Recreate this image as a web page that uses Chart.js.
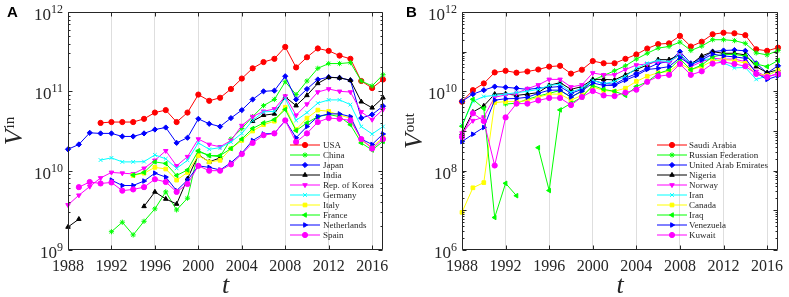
<!DOCTYPE html>
<html>
<head>
<meta charset="utf-8">
<script src="https://cdn.jsdelivr.net/npm/chart.js@4.4.0/dist/chart.umd.min.js"></script>
<style>
  body { margin: 0; background: #fff; }
  #wrapA { position: absolute; left: 0; top: 0; width: 395px; height: 297px; }
  #wrapB { position: absolute; left: 395px; top: 0; width: 394px; height: 297px; }
</style>
</head>
<body>
<div id="wrapA"><canvas id="chartA" width="395" height="297"></canvas></div>
<div id="wrapB"><canvas id="chartB" width="394" height="297"></canvas></div>
<script>
// years on the x axis
const years = [1988, 1989, 1990, 1991, 1992, 1993, 1994, 1995, 1996, 1997,
               1998, 1999, 2000, 2001, 2002, 2003, 2004, 2005, 2006, 2007,
               2008, 2009, 2010, 2011, 2012, 2013, 2014, 2015, 2016, 2017];
const xTickYears = [1988, 1992, 1996, 2000, 2004, 2008, 2012, 2016];
const yExpA = [9, 10, 11, 12];
const yExpB = [6, 8, 10, 12];

// Panel A: V^in
const namesA = ['USA', 'China', 'Japan', 'India', 'Rep. of Korea', 'Germany', 'Italy', 'France', 'Netherlands', 'Spain'];
const usa = [null, null, null, 4.0e10, 4.1e10, 4.1e10, 4.1e10, 4.5e10, 5.4e10, 5.8e10, 4.1e10, 5.4e10,
  9.1e10, 7.6e10, 8.3e10, 1.07e11, 1.45e11, 1.95e11, 2.34e11, 2.57e11,
  3.63e11, 2.0e11, 2.69e11, 3.47e11, 3.24e11, 2.82e11, 2.57e11, 1.35e11, 1.1e11, 1.41e11];
const china = [null, null, null, null, 1.7e9, 2.24e9, 1.55e9, 2.3e9, 3.3e9, 5.4e9, 3.2e9, 4.5e9,
  1.74e10, 1.55e10, 1.5e10, 2.5e10, 3.4e10, 4.8e10, 6.6e10, 7.9e10,
  1.32e11, 9.1e10, 1.35e11, 1.95e11, 2.24e11, 2.24e11, 2.3e11, 1.35e11, 1.17e11, 1.62e11];
const japan = [1.86e10, 2.14e10, 3.0e10, 2.95e10, 2.95e10, 2.7e10, 2.7e10, 2.95e10, 3.3e10, 3.5e10, 2.24e10, 2.6e10,
  4.5e10, 3.9e10, 3.6e10, 4.6e10, 5.8e10, 7.9e10, 1.0e11, 1.02e11,
  1.55e11, 7.9e10, 1.07e11, 1.41e11, 1.51e11, 1.48e11, 1.38e11, 4.6e10, 5.1e10, 6.5e10];
const india = [1.95e9, 2.45e9, null, null, null, null, null, 3.55e9, 5.4e9, 4.4e9, 3.8e9, 7.9e9,
  1.58e10, 1.29e10, 1.45e10, null, null, 4.2e10, 5.0e10, 5.2e10,
  8.5e10, 6.6e10, 8.9e10, 1.26e11, 1.5e11, 1.48e11, 1.38e11, 7.4e10, 6.2e10, 8.3e10];
const korea = [3.7e9, 4.9e9, 6.3e9, 8.1e9, 9.5e9, 9.3e9, 9.1e9, 1.07e10, 1.35e10, 1.78e10, 1.15e10, 1.5e10,
  2.5e10, 2.14e10, 2.0e10, 2.4e10, 3.7e10, 4.8e10, 5.6e10, 6.0e10,
  8.7e10, 5.0e10, 6.9e10, 9.8e10, 1.07e11, 1.0e11, 9.8e10, 5.5e10, 4.4e10, 5.9e10];
const germany = [null, null, null, 1.36e10, 1.45e10, 1.29e10, 1.29e10, 1.3e10, 1.58e10, 1.41e10, 1.07e10, 1.35e10,
  2.24e10, 1.86e10, 1.95e10, 2.3e10, 2.95e10, 4.3e10, 5.5e10, 5.6e10,
  8.1e10, 4.3e10, 5.4e10, 7.1e10, 7.8e10, 7.8e10, 6.8e10, 3.6e10, 2.9e10, 3.6e10];
const italy = [null, null, null, null, null, null, 8.7e9, 9.3e9, 1.1e10, 1.05e10, 7.6e9, 9.5e9,
  1.55e10, 1.29e10, 1.35e10, 1.9e10, 2.4e10, 3.16e10, 3.8e10, 4.2e10,
  6.3e10, 3.3e10, 4.6e10, 5.8e10, 5.6e10, 5.0e10, 4.6e10, 2.4e10, 2.0e10, 2.6e10];
const france = [null, null, null, null, null, null, 8.8e9, 9.5e9, 1.29e10, 1.23e10, 8.7e9, 1.02e10,
  1.78e10, 1.55e10, 1.55e10, 1.9e10, 2.5e10, 3.4e10, 4.0e10, 4.4e10,
  5.9e10, 3.2e10, 4.0e10, 4.8e10, 5.1e10, 4.8e10, 3.8e10, 2.24e10, 1.82e10, 2.34e10];
const netherlands = [null, null, null, null, 7.6e9, 6.5e9, 6.5e9, 7.4e9, 9.3e9, 8.3e9, 5.6e9, 7.6e9,
  1.15e10, 1.1e10, 1.02e10, 1.26e10, 1.66e10, 2.4e10, 2.9e10, 2.95e10,
  4.3e10, 2.6e10, 3.6e10, 4.8e10, 5.2e10, 5.2e10, 4.8e10, 2.5e10, 2.14e10, 2.9e10];
const spain = [null, 6.2e9, 7.2e9, 6.9e9, 7.1e9, 5.6e9, 5.8e9, 6.2e9, 7.8e9, 7.2e9, 5.4e9, 6.8e9,
  1.15e10, 1.0e10, 1.0e10, 1.2e10, 1.62e10, 2.24e10, 2.8e10, 2.95e10,
  4.3e10, 2.3e10, 2.95e10, 4.1e10, 4.6e10, 4.5e10, 4.3e10, 2.5e10, 1.9e10, 2.5e10];

// Panel B: V^out
const namesB = ['Saudi Arabia', 'Russian Federation', 'United Arab Emirates', 'Nigeria', 'Norway', 'Iran', 'Canada', 'Iraq', 'Venezuela', 'Kuwait'];
const saudi = [5.5e9, 1.07e10, 1.58e10, 3.0e10, 3.3e10, 2.95e10, 3.16e10, 3.55e10, 4.2e10, 4.4e10, 2.8e10, 3.5e10,
  5.8e10, 5.1e10, 5.1e10, 6.6e10, 8.5e10, 1.2e11, 1.55e11, 1.62e11,
  2.5e11, 1.35e11, 1.78e11, 2.75e11, 3.0e11, 2.9e11, 2.6e11, 1.15e11, 1.05e11, 1.26e11];
const russia = [null, null, null, null, 4.8e9, 5.0e9, 6.3e9, 7.6e9, 8.9e9, 1.05e10, 7.1e9, 1.0e10,
  1.9e10, 2.5e10, 3.3e10, 4.4e10, 6.5e10, 9.1e10, 1.23e11, 1.35e11,
  1.74e11, 1.07e11, 1.38e11, 2.0e11, 2.0e11, 1.9e11, 1.62e11, 9.3e10, 8.3e10, 1.07e11];
const uae = [5.6e9, 8.5e9, 1.07e10, 1.32e10, 1.26e10, 1.2e10, 1.12e10, 1.2e10, 1.26e10, 1.32e10, 8.9e9, 1.12e10,
  1.9e10, 1.58e10, 1.5e10, 2.14e10, 2.8e10, 3.8e10, 5.1e10, 5.6e10,
  1.0e11, 5.1e10, 6.8e10, 1.0e11, 1.07e11, 1.1e11, 1.05e11, 5.1e10, 2.9e10, 4.4e10];
const nigeria = [8.7e8, 3.0e9, 4.3e9, 8.5e9, 8.7e9, 7.9e9, 8.5e9, 9.3e9, 1.41e10, 1.66e10, 1.12e10, 1.32e10,
  2.0e10, 2.0e10, 1.95e10, 2.6e10, 3.55e10, 4.6e10, 6.3e10, 6.3e10,
  8.3e10, 4.8e10, 7.8e10, 1.0e11, 9.1e10, 9.1e10, 8.3e10, 4.2e10, 2.95e10, 3.5e10];
const norway = [8.9e8, 1.82e9, 2.24e9, 7.1e9, 8.1e9, 8.9e9, 1.17e10, 1.45e10, 2.0e10, 2.0e10, 1.29e10, 1.45e10,
  2.9e10, 2.6e10, 2.6e10, 3.55e10, 4.6e10, 4.9e10, 5.6e10, 5.4e10,
  8.3e10, 4.2e10, 5.6e10, 6.8e10, 6.5e10, 6.5e10, 5.6e10, 3.16e10, 2.34e10, 2.8e10];
const iran = [1.41e9, 5.6e9, 7.4e9, 7.9e9, 8.5e9, 9.3e9, 1.0e10, 1.12e10, 1.41e10, 1.51e10, 9.5e9, 1.2e10,
  1.9e10, 1.55e10, 1.78e10, 2.4e10, 3.8e10, 5.1e10, 6.0e10, 5.6e10,
  8.3e10, 4.9e10, 6.2e10, 6.8e10, 5.2e10, 3.9e10, 4.0e10, 2.0e10, 2.45e10, 3.55e10];
const canada = [8.9e6, 3.7e7, 5.0e7, 5.2e9, 5.5e9, 5.5e9, 5.8e9, 7.1e9, 8.5e9, 8.5e9, 6.0e9, 7.9e9,
  1.29e10, 1.05e10, 1.0e10, 1.2e10, 1.78e10, 2.4e10, 2.95e10, 3.16e10,
  5.1e10, 3.5e10, 4.2e10, 5.9e10, 6.3e10, 6.0e10, 5.1e10, 2.75e10, 2.5e10, 3.4e10];
const iraq = [1.32e9, 6.3e9, 3.7e9, 6.6e6, 4.8e7, 2.34e7, null, 3.8e8, 3.16e7, 3.4e9, 5.0e9, 7.1e9,
  1.41e10, 1.12e10, 1.0e10, 7.9e9, 1.32e10, 1.74e10, 2.8e10, 3.5e10,
  6.6e10, 3.5e10, 4.6e10, 7.4e10, 8.5e10, 8.5e10, 7.8e10, 4.9e10, 4.2e10, 6.0e10];
const venezuela = [5.4e8, 8.3e8, 1.23e9, 6.0e9, 6.5e9, 6.6e9, 7.1e9, 8.9e9, 1.07e10, 1.07e10, 7.2e9, 1.02e10,
  1.62e10, 1.41e10, 1.41e10, 1.9e10, 2.5e10, 3.55e10, 3.8e10, 4.2e10,
  7.1e10, 4.7e10, 6.2e10, 8.7e10, 7.8e10, 7.4e10, 6.8e10, 2.9e10, 2.0e10, 2.45e10];
const kuwait = [7.1e8, 2.8e9, 1.78e9, 1.35e8, 2.2e9, 4.9e9, 4.9e9, 5.9e9, 6.8e9, 6.8e9, 4.5e9, 7.2e9,
  1.02e10, 7.9e9, 7.6e9, 9.3e9, 1.1e10, 1.74e10, 2.4e10, 2.6e10,
  4.9e10, 2.6e10, 3.2e10, 5.0e10, 5.5e10, 4.9e10, 4.3e10, 2.75e10, 2.3e10, 2.75e10];

// MATLAB-like colour / marker order, same for both panels
const seriesStyles = [
  { color: '#ff0000', point: 'circle', rot: 0 },
  { color: '#00ff00', point: 'star', rot: 0 },
  { color: '#0000ff', point: 'rectRot', rot: 0 },
  { color: '#000000', point: 'triangle', rot: 0 },
  { color: '#ff00ff', point: 'triangle', rot: 180 },
  { color: '#00ffff', point: 'crossRot', rot: 0 },
  { color: '#ffff00', point: 'rect', rot: 0 },
  { color: '#00ff00', point: 'triangle', rot: 270 },
  { color: '#0000ff', point: 'triangle', rot: 90 },
  { color: '#ff00ff', point: 'circle', rot: 0 }
];

const serif = '"Liberation Serif", "DejaVu Serif", serif';
const AXIS_COLOR = '#262626';

function buildDatasets(names, series) {
  return names.map((name, i) => ({
    label: name,
    data: years.map((yr, j) => ({ x: yr, y: series[i][j] })),
    borderColor: seriesStyles[i].color,
    backgroundColor: seriesStyles[i].color,
    pointStyle: seriesStyles[i].point,
    pointRotation: seriesStyles[i].rot,
    pointRadius: 2.6,
    pointBorderWidth: 1,
    borderWidth: 1,
    tension: 0,
    spanGaps: false,
    clip: false,
    order: names.length - i
  }));
}

// axes box, inward ticks, tick labels, titles and legend in MATLAB style
const matlabAxes = {
  id: 'matlabAxes',
  afterDraw(chart, args, opts) {
    const ctx = chart.ctx;
    const a = chart.chartArea;
    const xs = chart.scales.x;
    const ys = chart.scales.y;
    const L = Math.round(a.left) + 0.5, R = Math.round(a.right) - 0.5;
    const T = Math.round(a.top) + 0.5, B = Math.round(a.bottom) - 0.5;

    ctx.save();
    ctx.strokeStyle = AXIS_COLOR;
    ctx.lineWidth = 1;
    ctx.beginPath();
    ctx.rect(L, T, R - L, B - T);
    // x ticks
    xTickYears.forEach(v => {
      const px = Math.round(xs.getPixelForValue(v)) + 0.5;
      ctx.moveTo(px, B); ctx.lineTo(px, B - 4);
      ctx.moveTo(px, T); ctx.lineTo(px, T + 4);
    });
    // y ticks (major + minor)
    for (let e = opts.minExp; e <= opts.maxExp; e++) {
      for (let k = 1; k <= 9; k++) {
        if (e === opts.maxExp && k > 1) break;
        const py = Math.round(ys.getPixelForValue(k * Math.pow(10, e))) + 0.5;
        const len = k === 1 ? 4 : 2;
        ctx.moveTo(L, py); ctx.lineTo(L + len, py);
        ctx.moveTo(R, py); ctx.lineTo(R - len, py);
      }
    }
    ctx.stroke();

    ctx.fillStyle = '#262626';
    // x tick labels
    ctx.font = '16px ' + serif;
    ctx.textAlign = 'center';
    ctx.textBaseline = 'alphabetic';
    xTickYears.forEach(v => {
      ctx.fillText(String(v), xs.getPixelForValue(v), a.bottom + 21);
    });
    // y tick labels 10^n
    ctx.textAlign = 'left';
    opts.labelExps.forEach(e => {
      const py = ys.getPixelForValue(Math.pow(10, e));
      ctx.font = '12px ' + serif;
      const w2 = ctx.measureText(String(e)).width;
      ctx.font = '17px ' + serif;
      const w1 = ctx.measureText('10').width;
      const right = a.left - 5;
      ctx.fillText('10', right - w2 - w1, py + 8);
      ctx.font = '12px ' + serif;
      ctx.fillText(String(e), right - w2, py + 1);
    });
    // x title
    ctx.font = 'italic 26px ' + serif;
    ctx.textAlign = 'center';
    ctx.fillText('t', (a.left + a.right) / 2, 293);
    // y title, rotated
    ctx.save();
    ctx.translate(opts.yTitleX, (a.top + a.bottom) / 2);
    ctx.rotate(-Math.PI / 2);
    ctx.font = 'italic 26px ' + serif;
    const wV = ctx.measureText('V').width;
    ctx.font = '15px ' + serif;
    const wS = ctx.measureText(opts.ySup).width;
    const x0 = -(wV + wS + 1) / 2;
    ctx.textAlign = 'left';
    ctx.font = 'italic 26px ' + serif;
    ctx.fillText('V', x0, 0);
    ctx.font = '15px ' + serif;
    ctx.fillText(opts.ySup, x0 + wV + 1, -8);
    ctx.restore();
    // panel letter
    ctx.font = 'bold 15px "Liberation Sans", Arial, sans-serif';
    ctx.textAlign = 'left';
    ctx.fillStyle = '#000';
    ctx.fillText(opts.panel, opts.panelX, 17);

    // legend
    ctx.font = '9px ' + serif;
    ctx.textBaseline = 'middle';
    chart.data.datasets.forEach((ds, i) => {
      const y = opts.legendY0 + i * 10;
      ctx.strokeStyle = ds.borderColor;
      ctx.fillStyle = ds.borderColor;
      ctx.lineWidth = 1;
      ctx.beginPath();
      ctx.moveTo(opts.legendX0, y);
      ctx.lineTo(opts.legendX1, y);
      ctx.stroke();
      Chart.helpers.drawPoint(ctx, {
        pointStyle: ds.pointStyle,
        rotation: ds.pointRotation,
        radius: 2.6,
        borderWidth: 1
      }, (opts.legendX0 + opts.legendX1) / 2, y);
      ctx.fillStyle = '#262626';
      ctx.fillText(ds.label, opts.legendText, y + 0.5);
    });
    ctx.restore();
  }
};

function makeChart(id, names, series, yMin, yMax, padding, axesOpts) {
  return new Chart(document.getElementById(id), {
    type: 'line',
    data: { datasets: buildDatasets(names, series) },
    options: {
      responsive: false,
      animation: false,
      layout: { padding: padding },
      plugins: {
        legend: { display: false },
        tooltip: { enabled: false },
        matlabAxes: axesOpts
      },
      scales: {
        x: {
          type: 'linear',
          min: 1988,
          max: 2017,
          afterBuildTicks: s => { s.ticks = xTickYears.map(v => ({ value: v })); },
          afterFit: s => { s.height = 0; },
          ticks: { display: false },
          border: { display: false },
          grid: { color: '#dedede', lineWidth: 1, drawTicks: false }
        },
        y: {
          type: 'logarithmic',
          min: yMin,
          max: yMax,
          afterFit: s => { s.width = 0; },
          ticks: { display: false },
          border: { display: false },
          grid: { display: false }
        }
      }
    },
    plugins: [matlabAxes]
  });
}

makeChart('chartA', namesA,
  [usa, china, japan, india, korea, germany, italy, france, netherlands, spain],
  1e9, 1e12,
  { left: 68, right: 12, top: 12, bottom: 47 },
  { minExp: 9, maxExp: 12, labelExps: yExpA, ySup: 'in', yTitleX: 22, panel: 'A', panelX: 7,
    legendY0: 145, legendX0: 290, legendX1: 320, legendText: 323 });

makeChart('chartB', namesB,
  [saudi, russia, uae, nigeria, norway, iran, canada, iraq, venezuela, kuwait],
  1e6, 1e12,
  { left: 67, right: 11, top: 12, bottom: 47 },
  { minExp: 6, maxExp: 12, labelExps: yExpB, ySup: 'out', yTitleX: 27, panel: 'B', panelX: 11,
    legendY0: 145, legendX0: 262, legendX1: 292, legendText: 294 });
</script>
</body>
</html>
